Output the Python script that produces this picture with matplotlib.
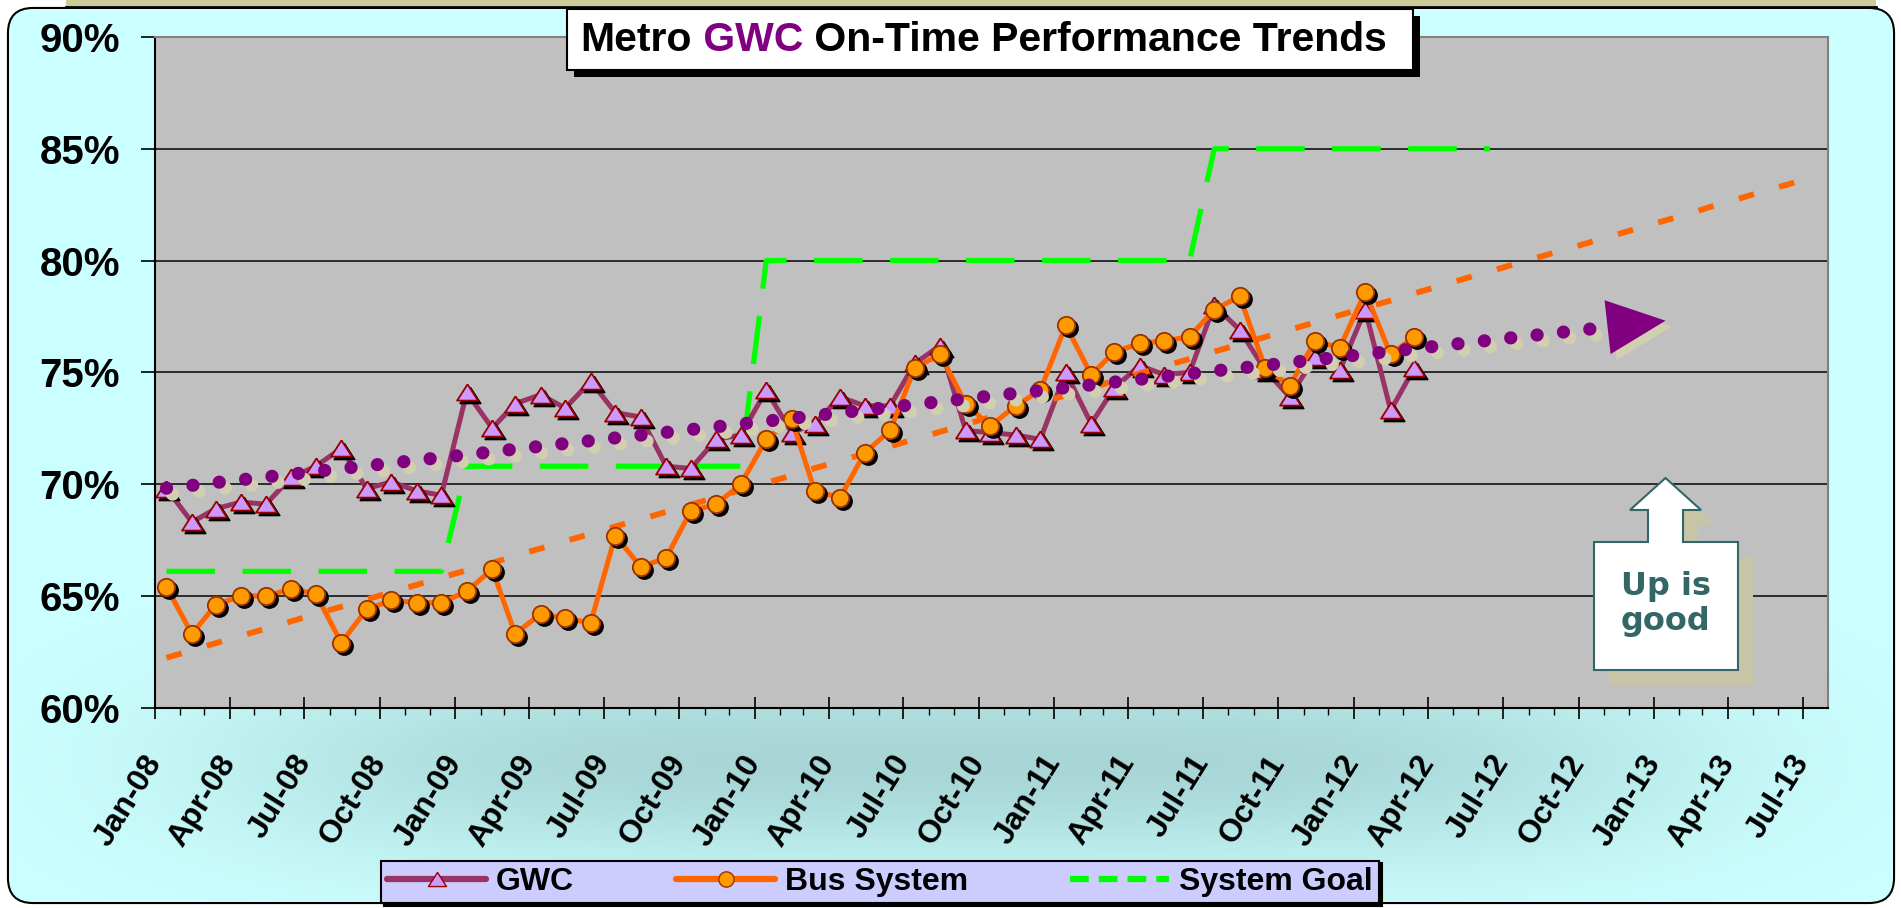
import numpy as np
import pandas as pd
import matplotlib
matplotlib.use('Agg')
import matplotlib.pyplot as plt
import matplotlib.dates as mdates
from matplotlib.patches import Polygon, Rectangle, FancyBboxPatch
from matplotlib.lines import Line2D
from matplotlib.transforms import offset_copy

plt.rcParams['font.family'] = ['Liberation Sans', 'DejaVu Sans']

W, H = 1901, 908

# monthly on-time performance (%), Jan-08 .. Mar-12
gwc = [69.8, 68.3, 68.9, 69.2, 69.1, 70.3, 70.8, 71.6, 69.8, 70.1, 69.7, 69.5,
       74.1, 72.5, 73.6, 74.0, 73.4, 74.6, 73.2, 73.0, 70.8, 70.7, 72.0, 72.2,
       74.2, 72.3, 72.7, 73.9, 73.5, 73.5, 75.4, 76.2, 72.4, 72.3, 72.2, 72.0,
       75.0, 72.7, 74.3, 75.3, 74.9, 75.0, 78.0, 76.9, 75.1, 73.9, 75.7, 75.1,
       77.8, 73.3, 75.2]
bus = [65.4, 63.3, 64.6, 65.0, 65.0, 65.3, 65.1, 62.9, 64.4, 64.8, 64.7, 64.7,
       65.2, 66.2, 63.3, 64.2, 64.0, 63.8, 67.7, 66.3, 66.7, 68.8, 69.1, 70.0,
       72.0, 72.9, 69.7, 69.4, 71.4, 72.4, 75.2, 75.8, 73.6, 72.6, 73.5, 74.2,
       77.1, 74.9, 75.9, 76.3, 76.4, 76.6, 77.8, 78.4, 75.2, 74.4, 76.4, 76.1,
       78.6, 75.8, 76.6]
# system goal (%), Jan-08 .. Jun-12
goal = [66.1, 66.1, 66.1, 66.1, 66.1, 66.1, 66.1, 66.1, 66.1, 66.1, 66.1, 66.1,
        70.8, 70.8, 70.8, 70.8, 70.8, 70.8, 70.8, 70.8, 70.8, 70.8, 70.8, 70.8,
        80.0, 80.0, 80.0, 80.0, 80.0, 80.0, 80.0, 80.0, 80.0, 80.0, 80.0, 80.0,
        80.0, 80.0, 80.0, 80.0, 80.0, 80.0,
        85.0, 85.0, 85.0, 85.0, 85.0, 85.0, 85.0, 85.0, 85.0, 85.0, 85.0, 85.0]

tick_labels = ['Jan-08', 'Apr-08', 'Jul-08', 'Oct-08', 'Jan-09', 'Apr-09', 'Jul-09', 'Oct-09',
               'Jan-10', 'Apr-10', 'Jul-10', 'Oct-10', 'Jan-11', 'Apr-11', 'Jul-11', 'Oct-11',
               'Jan-12', 'Apr-12', 'Jul-12', 'Oct-12', 'Jan-13', 'Apr-13', 'Jul-13']
y_ticks = [60, 65, 70, 75, 80, 85, 90]
y_labels = ['60%', '65%', '70%', '75%', '80%', '85%', '90%']

gwc_forward = 10   # trendline forecast, months
bus_forward = 16

# x positions: mid-month dates on a date axis
months = pd.date_range('2008-01-01', periods=67, freq='MS')
xm = mdates.date2num(months)
xp = mdates.date2num(months + pd.Timedelta(days=14))
xt = mdates.date2num(pd.to_datetime(tick_labels, format='%b-%y'))

# linear trendlines
cg = np.polyfit(np.arange(len(gwc)), gwc, 1)
tg = np.polyval(cg, np.arange(len(gwc) + gwc_forward))
cb = np.polyfit(np.arange(len(bus)), bus, 1)
tb = np.polyval(cb, np.arange(len(bus) + bus_forward))

fig = plt.figure(figsize=(W / 100, H / 100), dpi=100)
fig.patch.set_facecolor('white')

# background layer (pixel coords, y down)
bg = fig.add_axes([0, 0, 1, 1], zorder=0)
bg.axis('off')
bg.add_patch(Rectangle((66, 0), 1810, 6, fc='#CCCC99', ec='none'))
bg.plot([66, 1876], [7, 7], color='black', lw=2)
frame = FancyBboxPatch((9, 9), 1884, 893, boxstyle='round,pad=0,rounding_size=24',
                       fc='#CCFFFF', ec='black', lw=3, zorder=1)
bg.add_patch(frame)
gx, gy = np.meshgrid(np.arange(W), np.arange(H))
wgt = np.exp(-(((gx - 960) / 720.0) ** 4) - ((gy - 760) / 105.0) ** 2)
c0 = np.array([0.80, 1.0, 1.0])
c1 = np.array([0.66, 0.84, 0.84])
img = c0 + (c1 - c0) * wgt[..., None]
im = bg.imshow(img, extent=(0, W, H, 0), aspect='auto', zorder=2)
im.set_clip_path(frame)
bg.set_xlim(0, W)
bg.set_ylim(H, 0)

# main plot
ax = fig.add_axes([155 / W, 1 - 707.7 / H, (1828 - 155) / W, (707.7 - 37) / H], zorder=1)
ax.set_facecolor('#C0C0C0')
ax.set_xlim(mdates.date2num(pd.Timestamp('2008-01-01')), mdates.date2num(pd.Timestamp('2013-08-01')))
ax.set_ylim(60, 90)
ax.set_yticks(y_ticks, y_labels)
ax.yaxis.grid(True, color='#202020', lw=1.3)
ax.set_axisbelow(True)

sh = offset_copy(ax.transData, fig=fig, x=3, y=-3, units='dots')
sh2 = offset_copy(ax.transData, fig=fig, x=6, y=-6, units='dots')
tri = [(0, 0.78), (-1, -0.78), (1, -0.78), (0, 0.78)]

n = len(goal)
ax.plot(xp[:n], goal, color='#00FF00', lw=3.8, ls=(0, (9.2, 5.2)), zorder=2)

ax.plot(xp[:len(gwc)], gwc, color='#993366', lw=3.6, zorder=3)
ax.plot(xp[:len(gwc)], gwc, ls='none', marker=tri, ms=15, color='black', transform=sh, zorder=3)
ax.plot(xp[:len(gwc)], gwc, ls='none', marker=tri, ms=15, mfc='#CC99FF', mec='#990000', mew=1.3, zorder=3)

ax.plot(xp[:len(tb)], tb, color='#FF6600', lw=4.2, ls=(0, (2.7, 4.5)), zorder=3.5)

ax.plot(xp[:len(bus)], bus, color='#FF6600', lw=3.6, zorder=4)
ax.plot(xp[:len(bus)], bus, ls='none', marker='o', ms=12.5, color='black', transform=sh, zorder=4)
ax.plot(xp[:len(bus)], bus, ls='none', marker='o', ms=12.5, mfc='#FF9900', mec='#993300', mew=1.3, zorder=4)

# GWC trend with forecast arrow
k = len(tg) - 1
dots = dict(lw=9.5, ls=(0, (0.01, 2.0)), dash_capstyle='round', zorder=5)
ax.plot(xp[:len(tg)], tg, color='#D2CEB0', transform=sh2, **dots)
ax.plot(xp[:len(tg)], tg, color='#800080', **dots)
for tr, col in [(sh2, '#D2CEB0'), (ax.transData, '#800080')]:
    ax.annotate('', xy=(xp[k], tg[k]), xytext=(xp[k - 2], tg[k - 2]), xycoords=tr, textcoords=tr,
                arrowprops=dict(arrowstyle='-|>,head_length=1.4,head_width=0.65', color=col, lw=0,
                                mutation_scale=30, shrinkA=0, shrinkB=0), zorder=5)

ax.set_xticks(xt, tick_labels, rotation=58, ha='right', va='center', rotation_mode='anchor',
              fontsize=23, fontweight='bold')
ax.set_xticks(xm, minor=True)
ax.tick_params(axis='x', which='major', direction='inout', length=16, width=1.2, pad=28)
ax.tick_params(axis='x', which='minor', direction='out', length=5, width=1)
ax.tick_params(axis='y', direction='out', length=10, width=1.2, pad=15, labelsize=29)
for lab in ax.get_yticklabels():
    lab.set_fontweight('bold')
ax.spines['left'].set_color('black')
ax.spines['bottom'].set_color('black')
ax.spines['top'].set_color('#808080')
ax.spines['right'].set_color('#808080')
for s in ax.spines.values():
    s.set_linewidth(1.5)

# overlay layer: title box and callout
ov = fig.add_axes([0, 0, 1, 1], zorder=2)
ov.axis('off')
ov.set_xlim(0, W)
ov.set_ylim(H, 0)
ov.add_patch(Rectangle((574, 16), 846, 61, fc='black', ec='none'))
ov.add_patch(Rectangle((567, 9), 846, 61, fc='white', ec='black', lw=1.5))
t1 = ov.text(580, 40, 'Metro', fontsize=29.5, fontweight='bold', ha='left', va='center')
t2 = ov.annotate(' GWC', xy=(1, 0), xycoords=t1, ha='left', va='bottom', fontsize=29.5,
                 fontweight='bold', color='#800080')
ov.annotate(' On-Time Performance Trends', xy=(1, 0), xycoords=t2, ha='left', va='bottom',
            fontsize=29.5, fontweight='bold')

sx, sy = 15, 15
up = [(1594, 670), (1738, 670), (1738, 542), (1683, 542), (1683, 510), (1701, 510),
      (1665.5, 478), (1630, 510), (1648, 510), (1648, 542), (1594, 542)]
ov.add_patch(Polygon([(a + sx, b + sy) for a, b in up], closed=True, fc='#C8C5A6', ec='none'))
ov.add_patch(Polygon(up, closed=True, fc='white', ec='#336666', lw=1.5))
ov.text(1666, 604, 'Up is\ngood', ha='center', va='center', fontsize=23, fontweight='bold',
        color='#336666', family='DejaVu Sans', linespacing=1.2)

# legend
h_gwc = Line2D([], [], color='#993366', lw=4.5, marker=tri, ms=13, mfc='#CC99FF', mec='#990000',
               solid_capstyle='round')
h_bus = Line2D([], [], color='#FF6600', lw=4.5, marker='o', ms=11, mfc='#FF9900', mec='#993300',
               solid_capstyle='round')
h_goal = Line2D([], [], color='#00FF00', lw=4.5, ls=(0, (3, 1.6)))
leg = fig.legend([h_gwc, h_bus, h_goal], ['GWC', 'Bus System', 'System Goal'], loc='center',
                 bbox_to_anchor=(880 / W, 1 - 882 / H), ncol=3, frameon=True, fancybox=False,
                 facecolor='#CCCCFF', edgecolor='black', framealpha=1,
                 shadow={'color': 'black', 'alpha': 1},
                 prop={'weight': 'bold', 'size': 23}, handlelength=3.1, handletextpad=0.3,
                 columnspacing=3.2, borderpad=0.2)
leg.get_frame().set_linewidth(1.5)

fig.savefig('out.png', dpi=100)
